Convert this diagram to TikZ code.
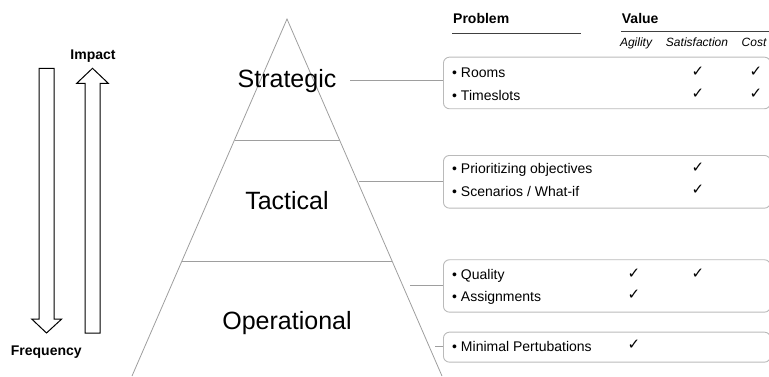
\documentclass[tikz,border=0pt]{standalone}
\usepackage{fontspec}
\setmainfont{Liberation Sans}
\newfontfamily\checkfont{DejaVu Sans}
\begin{document}
\begin{tikzpicture}[x=1pt,y=-1pt,
  thingray/.style={draw=black!38, line width=0.8pt},
  rule/.style={draw=black!75, line width=0.9pt},
  level/.style={font=\fontsize{25}{30}\selectfont, inner sep=0pt, text height=18pt, text depth=0pt},
  itembox/.style={draw=black!27, line width=0.9pt, rounded corners=6pt, minimum width=327pt, anchor=north west, inner sep=0pt},
  item/.style={font=\fontsize{14}{17}\selectfont, anchor=west, inner sep=0pt, text height=10pt, text depth=0pt},
  tick/.style={font=\checkfont\fontsize{15}{17}\selectfont, inner sep=0pt},
  head/.style={font=\bfseries\fontsize{14}{17}\selectfont, inner sep=0pt, text height=10pt, text depth=0pt},
  col/.style={font=\itshape\fontsize{12}{14}\selectfont, inner sep=0pt, text height=8.6pt, text depth=0pt},
  bigarrow/.style={draw=black, line width=1pt, fill=white, line join=miter}
]
\useasboundingbox (0,0) rectangle (769,376);

% pyramid with its three levels
\draw[thingray] (132,376) -- (287,19) -- (442,376);
\draw[thingray] (234.5,140) -- (339.5,140);
\draw[thingray] (182,261) -- (392,261);
\node[level] (strat) at (287,78) {Strategic};
\node[level] (tact)  at (287,200) {Tactical};
\node[level] (oper)  at (287,320) {Operational};

% impact / frequency arrows
\draw[bigarrow] (39,68.3) -- (54,68.3) -- (54,319) -- (61.7,319) -- (46.5,333)
  -- (31.7,319) -- (39,319) -- cycle;
\draw[bigarrow] (85,333) -- (100,333) -- (100,83.3) -- (108.3,83.3) -- (92.5,68.3)
  -- (76.7,83.3) -- (85,83.3) -- cycle;
\node[head] (impact) at (93,54.7) {Impact};
\node[head] (freq) at (46.3,350) {Frequency};

% table header
\node[head, anchor=west] (prob) at (453,18.3) {Problem};
\node[head, anchor=west] (val) at (621.7,18.3) {Value};
\draw[rule] (452,33) -- (581,33);
\draw[rule] (621,31) -- (769,31);
\node[col] (cagi) at (636,42.5) {Agility};
\node[col] (csat) at (697,42.5) {Satisfaction};
\node[col] (ccos) at (754,42.5) {Cost};

% problem boxes
\node[itembox, minimum height=51.6pt] (b1) at (443,56.7) {};
\node[itembox, minimum height=52.7pt] (b2) at (443,155) {};
\node[itembox, minimum height=52.4pt] (b3) at (443,259.3) {};
\node[itembox, minimum height=30pt]   (b4) at (443,331.7) {};

% connectors from the levels to the boxes
\coordinate (c1) at (350,80);
\coordinate (c2) at (359,181.4);
\coordinate (c3) at (410,285.5);
\coordinate (c4) at (435,346.7);
\draw[thingray] (c1) -- (c1 -| b1.west);
\draw[thingray] (c2) -- (c2 -| b2.west);
\draw[thingray] (c3) -- (c3 -| b3.west);
\draw[thingray] (c4) -- (c4 -| b4.west);

% box contents
\node[item] (i1) at (452,72.7) {• Rooms};
\node[item] (i2) at (452,95) {• Timeslots};
\node[item] (i3) at (452,168.3) {• Prioritizing objectives};
\node[item] (i4) at (452,191) {• Scenarios / What-if};
\node[item] (i5) at (452,274.3) {• Quality};
\node[item] (i6) at (452,296) {• Assignments};
\node[item] (i7) at (452,346) {• Minimal Pertubations};

% value ticks
\node[tick] (t1s) at (698,71.7) {✓};
\node[tick] (t1c) at (756,71.7) {✓};
\node[tick] (t2s) at (698,94) {✓};
\node[tick] (t2c) at (756,94) {✓};
\node[tick] (t3s) at (698,167.3) {✓};
\node[tick] (t4s) at (698,190) {✓};
\node[tick] (t5a) at (634,273.3) {✓};
\node[tick] (t5s) at (698,273.3) {✓};
\node[tick] (t6a) at (634,295) {✓};
\node[tick] (t7a) at (634,345) {✓};
\end{tikzpicture}
\end{document}
